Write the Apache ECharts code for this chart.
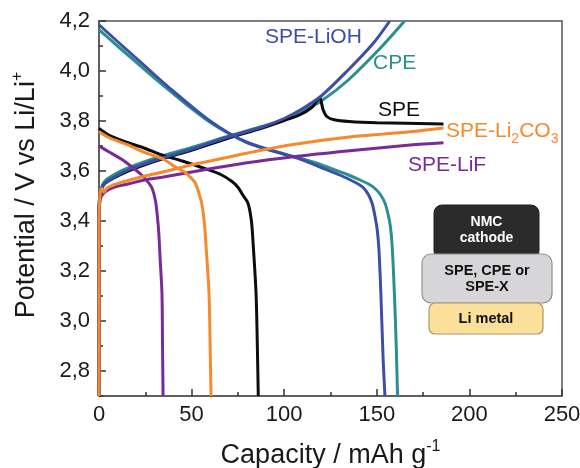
<!DOCTYPE html>
<html>
<head>
<meta charset="utf-8">
<script src="https://cdn.jsdelivr.net/npm/echarts@6/dist/echarts.min.js"></script>
<style>
html,body{margin:0;padding:0;background:#fff;}
#c{width:580px;height:468px;}
</style>
</head>
<body>
<div id="c"></div>
<script>
// ---- axis ticks ----
const xTickValues = [0, 50, 100, 150, 200, 250];
const yMajorTicks = [2.8, 3.0, 3.2, 3.4, 3.6, 3.8, 4.0, 4.2];
const yMinorTicks = [2.7, 2.9, 3.1, 3.3, 3.5, 3.7, 3.9, 4.1];

// ---- curves: [capacity mAh/g, potential V] ----
const lioh_discharge = [[0,4.185],[10,4.118],[20,4.052],[30,3.985],[40,3.92],[50,3.858],[60,3.80],[70,3.752],[80,3.714],[90,3.688],[100,3.667],[110,3.644],[120,3.614],[130,3.584],[139,3.552],[142.5,3.535],[145.5,3.505],[147.5,3.47],[149,3.42],[150.3,3.36],[151.2,3.28],[152.2,3.11],[153.4,2.85],[154.4,2.70]];
const lioh_charge = [[0,2.70],[0,3.45],[1,3.52],[3.2,3.552],[8,3.575],[15.7,3.604],[25,3.63],[34,3.652],[52,3.692],[69.6,3.736],[88,3.776],[100,3.81],[110,3.85],[120,3.9],[134,4.0],[148,4.11],[157,4.2]];

const cpe_discharge = [[0,4.165],[10,4.1],[20,4.036],[30,3.972],[40,3.91],[50,3.85],[60,3.795],[70,3.75],[80,3.714],[90,3.69],[100,3.668],[110,3.648],[118,3.63],[126,3.608],[134,3.586],[141,3.564],[146,3.546],[149,3.53],[152,3.505],[154.4,3.472],[156,3.43],[157.3,3.38],[158.3,3.30],[159.5,3.11],[160.5,2.9],[161.2,2.70]];
const cpe_charge = [[0,2.70],[0,3.45],[1,3.525],[3.2,3.56],[8,3.585],[15.7,3.612],[25,3.638],[34,3.66],[52,3.698],[70,3.74],[88,3.778],[100,3.805],[110,3.84],[120,3.88],[134,3.96],[151.7,4.09],[165,4.2]];

const spe_discharge = [[0,3.77],[5,3.745],[15.7,3.713],[25,3.69],[34,3.664],[45,3.64],[57,3.61],[66,3.585],[72,3.557],[75,3.535],[78,3.5],[80.5,3.47],[82.3,3.40],[83.3,3.30],[84.8,3.11],[85.5,2.9],[86,2.70]];
const spe_charge = [[0,2.70],[0,3.45],[1,3.52],[3.2,3.55],[8,3.572],[15.7,3.6],[25,3.626],[34,3.648],[52,3.688],[70,3.732],[88,3.772],[100,3.802],[108.5,3.825],[115,3.855],[119.3,3.892],[120.2,3.87],[121,3.845],[123,3.818],[127,3.805],[135,3.798],[150,3.793],[186,3.788]];

const li2co3_discharge = [[0,3.758],[5,3.735],[15.7,3.704],[25,3.673],[34,3.65],[42.6,3.61],[46.4,3.595],[50,3.57],[52,3.552],[54,3.51],[55.5,3.47],[56.8,3.40],[57.8,3.30],[59.4,3.11],[60,2.9],[60.5,2.70]];
const li2co3_charge = [[0,2.70],[0,3.40],[0.6,3.51],[1.5,3.53],[2.7,3.515],[4,3.53],[8,3.545],[15.7,3.562],[25,3.58],[34,3.595],[52,3.628],[57,3.635],[79,3.67],[103,3.704],[134,3.735],[168,3.757],[186,3.772]];

const lif_discharge = [[0,3.70],[5,3.678],[12.4,3.646],[18,3.615],[23,3.584],[26,3.56],[28.6,3.532],[30.5,3.48],[31.5,3.42],[32.3,3.35],[33,3.25],[34,3.11],[34.3,2.9],[34.6,2.70]];
const lif_charge = [[0,2.70],[0,3.40],[0.8,3.49],[3,3.515],[8,3.535],[15.7,3.548],[25,3.565],[34,3.575],[57,3.605],[79,3.632],[106,3.658],[134,3.68],[168,3.704],[186,3.713]];

const colors = {
  lioh: '#3b4ea8',
  cpe: '#2a908c',
  spe: '#0d0d0d',
  li2co3: '#f68a2a',
  lif: '#7a2a98'
};

const FONT = "'Liberation Sans', Arial, sans-serif";

function line(name, data, color) {
  return {
    name: name, type: 'line', data: data, showSymbol: false,
    smooth: 0.3,
    lineStyle: { color: color, width: 3 }, itemStyle: { color: color },
    silent: true, animation: false
  };
}

const chart = echarts.init(document.getElementById('c'));
const fmt = v => Number(v).toFixed(1).replace('.', ',');

chart.setOption({
  animation: false,
  textStyle: { fontFamily: FONT },
  grid: { left: 99, right: 18, top: 21, bottom: 72, show: true, borderColor: '#555', borderWidth: 1.5,
          containLabel: false, outerBoundsMode: 'none' },
  xAxis: {
    type: 'value', min: 0, max: 250, interval: 50,
    name: 'Capacity / mAh g{sup|-1}', nameLocation: 'middle', nameGap: 43,
    nameTextStyle: { fontSize: 27, color: '#1a1a1a', fontFamily: FONT, lineHeight: 34,
      rich: { sup: { fontSize: 16, verticalAlign: 'top', lineHeight: 16, color: '#1a1a1a', fontFamily: FONT } } },
    axisLine: { show: true, lineStyle: { color: '#555', width: 1.5 } },
    axisTick: { show: true, inside: true, length: 7, lineStyle: { color: '#333', width: 1.5 } },
    minorTick: { show: true, splitNumber: 2, length: 4, lineStyle: { color: '#333', width: 1.5 } },
    axisLabel: { fontSize: 22, color: '#1a1a1a', margin: 8, fontFamily: FONT },
    splitLine: { show: false }, minorSplitLine: { show: false }
  },
  yAxis: [{
    type: 'value', min: 2.7, max: 4.2,
    name: 'Potential / V vs Li/Li{sup|+}', nameLocation: 'middle', nameGap: 55, nameRotate: 90,
    nameTextStyle: { fontSize: 27, color: '#1a1a1a', fontFamily: FONT, lineHeight: 34, padding: [0, 0, 0, 27],
      rich: { sup: { fontSize: 16, verticalAlign: 'top', lineHeight: 16, color: '#1a1a1a', fontFamily: FONT } } },
    axisLine: { show: true, lineStyle: { color: '#555', width: 1.5 } },
    axisTick: { show: true, inside: true, length: 7, customValues: yMajorTicks, lineStyle: { color: '#333', width: 1.5 } },
    axisLabel: { fontSize: 22, color: '#1a1a1a', margin: 9, fontFamily: FONT, customValues: yMajorTicks, formatter: fmt },
    splitLine: { show: false }
  }, {
    type: 'value', min: 2.7, max: 4.2, position: 'left',
    axisLine: { show: false },
    axisTick: { show: true, inside: true, length: 4, customValues: yMinorTicks, lineStyle: { color: '#333', width: 1.5 } },
    axisLabel: { show: false, customValues: yMinorTicks },
    splitLine: { show: false }
  }],
  series: [
    line('CPE discharge', cpe_discharge, colors.cpe),
    line('CPE charge', cpe_charge, colors.cpe),
    line('SPE discharge', spe_discharge, colors.spe),
    line('SPE charge', spe_charge, colors.spe),
    line('SPE-LiOH discharge', lioh_discharge, colors.lioh),
    line('SPE-LiOH charge', lioh_charge, colors.lioh),
    line('SPE-LiF discharge', lif_discharge, colors.lif),
    line('SPE-LiF charge', lif_charge, colors.lif),
    line('SPE-Li2CO3 discharge', li2co3_discharge, colors.li2co3),
    line('SPE-Li2CO3 charge', li2co3_charge, colors.li2co3)
  ],
  graphic: [
    { type: 'text', x: 265, y: 37, style: { text: 'SPE-LiOH', fill: colors.lioh, font: '21px ' + FONT, verticalAlign: 'middle' } },
    { type: 'text', x: 373, y: 63, style: { text: 'CPE', fill: colors.cpe, font: '21px ' + FONT, verticalAlign: 'middle' } },
    { type: 'text', x: 378, y: 110, style: { text: 'SPE', fill: colors.spe, font: '21px ' + FONT, verticalAlign: 'middle' } },
    { type: 'text', x: 446, y: 131, style: { text: 'SPE-Li{sub|2}CO{sub|3}', fill: colors.li2co3, font: '21px ' + FONT, verticalAlign: 'middle', lineHeight: 30,
        rich: { sub: { fontSize: 14, fontFamily: FONT, fill: colors.li2co3, verticalAlign: 'bottom', lineHeight: 14 } } } },
    { type: 'text', x: 408, y: 165, style: { text: 'SPE-LiF', fill: colors.lif, font: '21px ' + FONT, verticalAlign: 'middle' } },

    { type: 'rect', shape: { x: 434, y: 205, width: 105, height: 54, r: 8 }, style: { fill: '#2b2b2b', stroke: '#222', lineWidth: 1 } },
    { type: 'text', x: 486.5, y: 230, style: { text: 'NMC\ncathode', fill: '#ffffff', font: 'bold 14px ' + FONT, align: 'center', verticalAlign: 'middle', lineHeight: 16 } },
    { type: 'rect', shape: { x: 422, y: 254, width: 130, height: 49, r: 9 }, style: { fill: '#d6d6d8', stroke: '#8f8f8f', lineWidth: 1.2 } },
    { type: 'text', x: 487, y: 279, style: { text: 'SPE, CPE or\nSPE-X', fill: '#111', font: 'bold 14.5px ' + FONT, align: 'center', verticalAlign: 'middle', lineHeight: 16 } },
    { type: 'rect', shape: { x: 429, y: 303, width: 114, height: 31, r: 6 }, style: { fill: '#fbe09a', stroke: '#a8976a', lineWidth: 1.2 } },
    { type: 'text', x: 486, y: 319, style: { text: 'Li metal', fill: '#111', font: 'bold 14.5px ' + FONT, align: 'center', verticalAlign: 'middle' } }
  ]
});
</script>
</body>
</html>
